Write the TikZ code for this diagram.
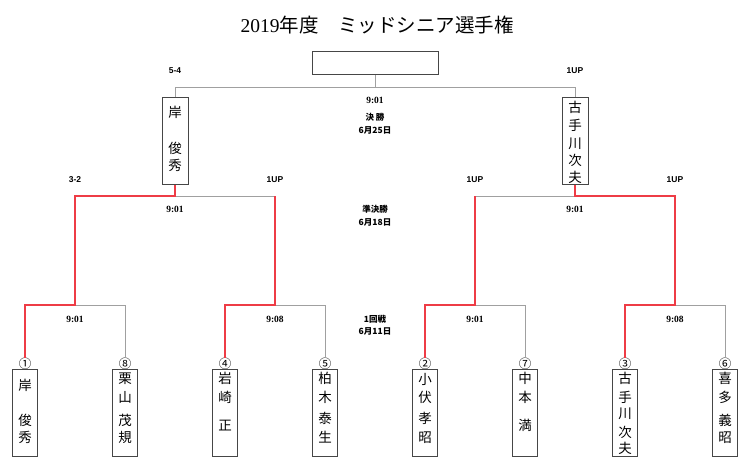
\documentclass[tikz,border=0pt]{standalone}
\usepackage{fontspec}
\setmainfont{Liberation Serif}
\newfontfamily\jp{Noto Sans CJK JP}
\newfontfamily\lsans{Liberation Sans}
\usetikzlibrary{calc}
\definecolor{linegray}{RGB}{160,160,160}
\definecolor{winred}{RGB}{238,60,70}
\definecolor{boxgray}{RGB}{70,70,70}
\newcommand\boxchars[2]{\foreach \o/\c in {#2} {\node[namech] (#1c\o) at ($(#1.north)+(0,\o)$) {\c};}}
\begin{document}
\begin{tikzpicture}[x=1bp,y=-1bp,
 namebox/.style={draw=boxgray,line width=1bp,minimum width=25bp,minimum height=86.5bp,inner sep=0pt},
 topbox/.style={namebox,minimum width=26bp,minimum height=87bp},
 namech/.style={font=\jp\fontsize{13.5bp}{14bp}\selectfont,inner sep=0pt,anchor=center},
 seed/.style={font=\jp\fontsize{12.5bp}{12.5bp}\selectfont,inner sep=0pt},
 score/.style={font=\lsans\bfseries\fontsize{8.5bp}{9bp}\selectfont,inner sep=0pt},
 time/.style={font=\bfseries\fontsize{9.5bp}{10bp}\selectfont,inner sep=0pt},
 round/.style={font=\jp\bfseries\fontsize{8.5bp}{9bp}\selectfont,inner sep=0pt},
 lose/.style={draw=linegray,line width=0.9bp},
 win/.style={draw=winred,line width=1.6bp},
]
\useasboundingbox (0,0) rectangle (750,462);
\node[font=\fontsize{19.5bp}{20bp}\selectfont] (title) at (377,25) {2019{\jp 年度　ミッドシニア選手権}};

% boxes
\node[topbox,minimum width=126bp,minimum height=23bp] (champ) at (375,63.5) {};
\node[topbox] (f1) at (175,141.5) {};
\node[topbox] (f2) at (575,141.5) {};
\boxchars{f1}{15/岸,51/俊,68/秀}
\boxchars{f2}{10/古,28/手,46/川,63/次,80/夫}

\node[namebox] (b1) at (25,413) {};
\node[namebox] (b8) at (125,413) {};
\node[namebox] (b4) at (225,413) {};
\node[namebox] (b5) at (325,413) {};
\node[namebox] (b2) at (425,413) {};
\node[namebox] (b7) at (525,413) {};
\node[namebox] (b3) at (625,413) {};
\node[namebox] (b6) at (725,413) {};
\boxchars{b1}{16/岸,51/俊,68/秀}
\boxchars{b8}{9/栗,28/山,51/茂,68/規}
\boxchars{b4}{9/岩,28/崎,56/正}
\boxchars{b5}{9/柏,28/木,49/泰,68/生}
\boxchars{b2}{10/小,28/伏,49/孝,68/昭}
\boxchars{b7}{9/中,28/本,56/満}
\boxchars{b3}{9/古,28/手,45/川,63/次,79/夫}
\boxchars{b6}{9/喜,28/多,51/義,68/昭}

\node[seed] (c1) at (25,364) {①};
\node[seed] (c8) at (125,364) {⑧};
\node[seed] (c4) at (225,364) {④};
\node[seed] (c5) at (325,364) {⑤};
\node[seed] (c2) at (425,364) {②};
\node[seed] (c7) at (525,364) {⑦};
\node[seed] (c3) at (625,364) {③};
\node[seed] (c6) at (725,364) {⑥};

% labels
\node[score] (sf1) at (175,71) {5-4};
\node[score] (sf2) at (575,71) {1UP};
\node[time] (tf) at (375,100) {9:01};
\node[round] (rf) at (375,117) {決 勝};
\node[round] (df) at (375,130.5) {6月25日};

\node[score] (ss1) at (75,180) {3-2};
\node[score] (ss2) at (275,180) {1UP};
\node[score] (ss3) at (475,180) {1UP};
\node[score] (ss4) at (675,180) {1UP};
\node[time] (ts1) at (175,209) {9:01};
\node[time] (ts2) at (575,209) {9:01};
\node[round] (rs) at (375,209) {準決勝};
\node[round] (ds) at (375,222) {6月18日};

\node[time] (t1) at (75,319) {9:01};
\node[time] (t2) at (275,319) {9:08};
\node[time] (t3) at (475,319) {9:01};
\node[time] (t4) at (675,319) {9:08};
\node[round] (r1) at (375,319) {1回戦};
\node[round] (d1) at (375,331.5) {6月11日};

% junctions
\coordinate (fc) at (375,87.5);
\coordinate (q1) at (75,196);
\coordinate (q2) at (275,196);
\coordinate (q3) at (475,196);
\coordinate (q4) at (675,196);
\coordinate (s1) at (75,305);
\coordinate (s2) at (275,305);
\coordinate (s3) at (475,305);
\coordinate (s4) at (675,305);

% losing / undecided lines
\draw[lose] (champ.south) -- (fc);
\draw[lose] (f1.north) |- (fc) -| (f2.north);
\draw[lose] (f1.south |- q2) -- (q2);
\draw[lose] (q3) -- (f2.south |- q3);
\draw[lose] (c8.north) |- (s1);
\draw[lose] (c5.north) |- (s2);
\draw[lose] (c7.north) |- (s3);
\draw[lose] (c6.north) |- (s4);

% winning lines
\draw[win] (c1.north) |- (s1) -- (q1) -| (f1.south);
\draw[win] (c4.north) |- (s2) -- (q2);
\draw[win] (c2.north) |- (s3) -- (q3);
\draw[win] (c3.north) |- (s4) -- (q4) -| (f2.south);
\end{tikzpicture}
\end{document}
